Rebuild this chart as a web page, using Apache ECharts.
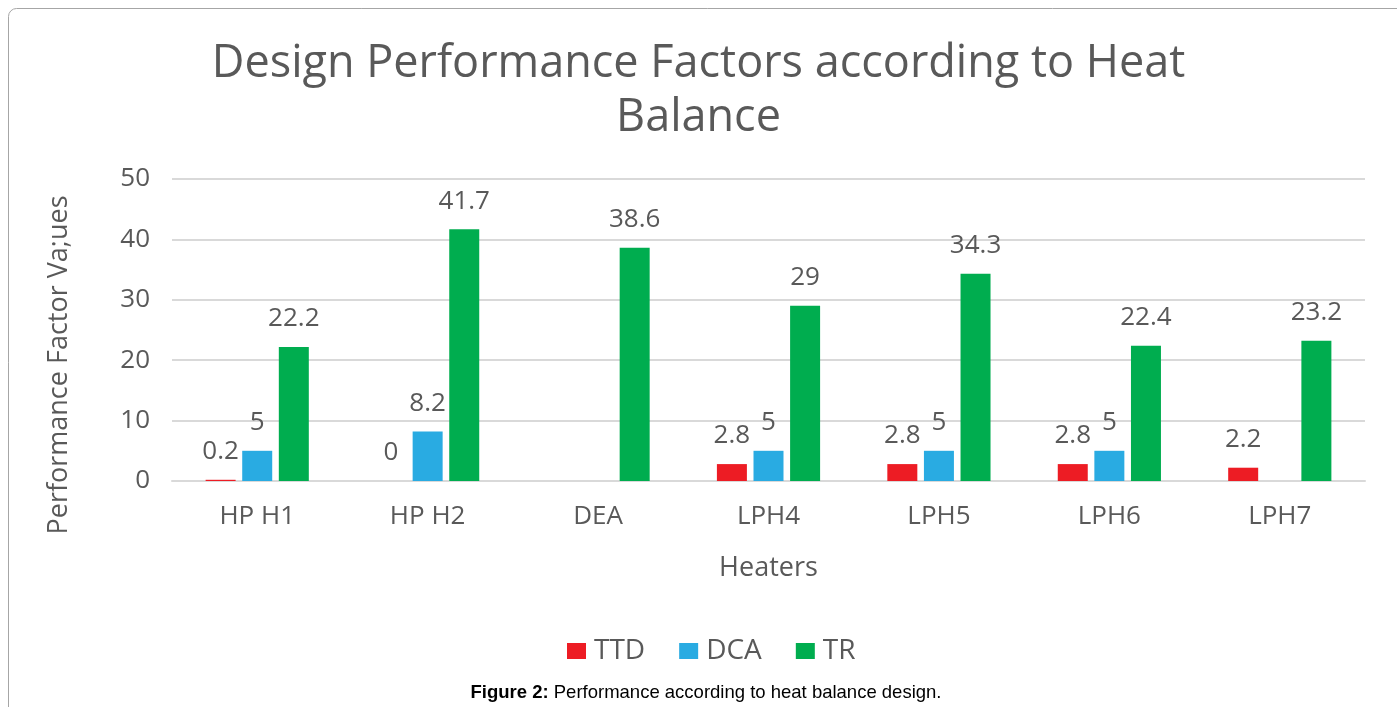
<!DOCTYPE html>
<html lang="en">

<head>
    <meta charset="UTF-8">
    <meta name="viewport" content="width=device-width, initial-scale=1.0">
    <script type="text/javascript" src="https://cdn.jsdelivr.net/npm/echarts@6/dist/echarts.min.js"></script>
    <title>Design Performance Factors</title>
    <style>
        html, body { margin: 0; padding: 0; background: #fff; }
    </style>
</head>

<body>
    <div id="container" style="width: 1397px; height: 707px"></div>
</body>
<script type="text/javascript">
    // data
    var heaters = ['HP H1', 'HP H2', 'DEA', 'LPH4', 'LPH5', 'LPH6', 'LPH7'];
    var ttd = [0.2, 0, null, 2.8, 2.8, 2.8, 2.2];
    var dca = [5, 8.2, null, 5, 5, 5, null];
    var tr = [22.2, 41.7, 38.6, 29, 34.3, 22.4, 23.2];
    var yTicks = { min: 0, max: 50, interval: 10 };

    var grey = '#595959';
    var font = 'Open Sans';

    var dom = document.getElementById('container');
    var myChart = echarts.init(dom, null, { renderer: 'canvas' });

    function barSeries(name, data, color) {
        return {
            name: name,
            type: 'bar',
            data: data,
            barWidth: 30,
            barGap: '22%',
            itemStyle: { color: color },
            label: {
                show: true,
                position: 'top',
                distance: 15,
                color: grey,
                fontFamily: font,
                fontSize: 26
            }
        };
    }

    var option = {
        animation: false,
        title: {
            text: 'Design Performance Factors according to Heat\nBalance',
            left: 'center',
            top: 32,
            textStyle: {
                color: grey,
                fontFamily: font,
                fontWeight: 'normal',
                fontSize: 45,
                lineHeight: 54
            }
        },
        legend: {
            top: 632,
            left: 562,
            itemWidth: 19,
            itemHeight: 16,
            itemGap: 34,
            icon: 'rect',
            textStyle: { color: grey, fontFamily: font, fontSize: 28, padding: [0, 0, 0, 3] },
            data: ['TTD', 'DCA', 'TR']
        },
        grid: {
            left: 172,
            right: 32,
            top: 179,
            bottom: 226,
            containLabel: false
        },
        xAxis: {
            type: 'category',
            data: heaters,
            name: 'Heaters',
            nameLocation: 'middle',
            nameGap: 74,
            nameTextStyle: { color: grey, fontFamily: font, fontSize: 27 },
            axisTick: { show: false },
            axisLine: { lineStyle: { color: '#d9d9d9', width: 2 } },
            axisLabel: { color: grey, fontFamily: font, fontSize: 26, margin: 23 }
        },
        yAxis: {
            type: 'value',
            min: yTicks.min,
            max: yTicks.max,
            interval: yTicks.interval,
            name: 'Performance Factor Va;ues',
            nameLocation: 'middle',
            nameGap: 99,
            nameTextStyle: {
                color: grey,
                fontFamily: font,
                fontSize: 27,
                padding: [0, 70, 0, 0]
            },
            axisLabel: { color: grey, fontFamily: font, fontSize: 26, margin: 22 },
            splitLine: { lineStyle: { color: '#d9d9d9', width: 2 } }
        },
        graphic: [
            {
                type: 'rect',
                shape: { x: 8.5, y: 8.5, width: 1420, height: 740, r: 8 },
                style: { fill: 'none', stroke: '#a6a6a6', lineWidth: 1 },
                silent: true,
                z: -1
            },
            {
                type: 'text',
                x: 706,
                y: 693,
                style: {
                    text: '{b|Figure 2:} Performance according to heat balance design.',
                    rich: { b: { fontWeight: 'bold', fontFamily: 'Liberation Sans', fontSize: 18.5, fill: '#000' } },
                    fontFamily: 'Liberation Sans',
                    fontSize: 18.5,
                    fill: '#000',
                    align: 'center',
                    verticalAlign: 'middle'
                }
            }
        ],
        series: [
            barSeries('TTD', ttd, '#ED1C24'),
            barSeries('DCA', dca, '#29ABE2'),
            barSeries('TR', tr, '#00AD4F')
        ]
    };

    myChart.setOption(option);
    window.addEventListener('resize', myChart.resize);
</script>

</html>
